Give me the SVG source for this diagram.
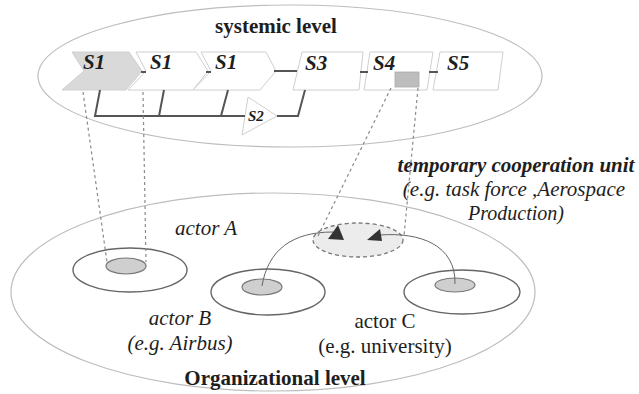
<svg xmlns="http://www.w3.org/2000/svg" width="639" height="394" viewBox="0 0 639 394">
<style>
.lvl{fill:none;stroke:#bdbdbd;stroke-width:1.2}
.chev{fill:#fff;stroke:#cfcfcf;stroke-width:1}
.box{fill:#fff;stroke:#cfcfcf;stroke-width:1}
.lnk{fill:none;stroke:#555;stroke-width:2}
.dot{fill:none;stroke:#8a8a8a;stroke-width:1.2;stroke-dasharray:3,3}
.act{fill:none;stroke:#666;stroke-width:1.4}
.core{fill:#cfcfcf;stroke:#777;stroke-width:1.2}
.cur{fill:none;stroke:#666;stroke-width:1}
.t{font-family:"Liberation Serif","Times New Roman",serif;fill:#1e1e1e}
.bi{font-weight:bold;font-style:italic}
.b{font-weight:bold}
.i{font-style:italic}
</style>
<g id="systemic-level">
<ellipse class="lvl" cx="290" cy="76" rx="252" ry="71"/>
<text class="t b" x="276" y="33" font-size="21" text-anchor="middle">systemic level</text>
</g>
<g id="organizational-level">
<ellipse class="lvl" cx="273" cy="292" rx="262" ry="99"/>
<text class="t b" x="275" y="385" font-size="21" text-anchor="middle">Organizational level</text>
</g>
<g id="s1-a">
<polygon class="chev" style="fill:#d9d9d9" points="72,52 129,52 142,71 126,90 62,90 84,71"/>
<text class="t bi" x="83" y="69" font-size="21">S1</text>
</g>
<g id="s1-b">
<polygon class="chev" points="136,52 196,52 208,71 193,90 128,90 146,71"/>
<text class="t bi" x="150" y="69" font-size="21">S1</text>
</g>
<g id="s1-c">
<polygon class="chev" points="201,52 266,52 276,71 260,90 193,90 211,71"/>
<text class="t bi" x="215" y="69" font-size="21">S1</text>
</g>
<g id="s2">
<polygon class="chev" points="248,97 277,116 242,135"/>
<text class="t bi" x="248" y="121" font-size="15">S2</text>
</g>
<g id="s3">
<polygon class="box" points="302,52 363,52 359,90 293,90"/>
<text class="t bi" x="305" y="70" font-size="21">S3</text>
</g>
<g id="s4">
<polygon class="box" points="370,52 433,52 427,90 364,90"/>
<rect x="395" y="72" width="24" height="15" fill="#bdbdbd" stroke="#aaa" stroke-width="0.8"/>
<text class="t bi" x="373" y="70" font-size="21">S4</text>
</g>
<g id="s5">
<polygon class="box" points="440,52 503,52 498,90 433,90"/>
<text class="t bi" x="447" y="70" font-size="21">S5</text>
</g>
<g id="actor-a">
<ellipse class="act" cx="130" cy="270" rx="57" ry="22"/>
<ellipse class="core" cx="126" cy="266" rx="20" ry="8"/>
<text class="t i" x="206" y="235" font-size="21" text-anchor="middle">actor A</text>
</g>
<g id="actor-b">
<ellipse class="act" cx="268" cy="292" rx="57" ry="23"/>
<ellipse class="core" cx="262" cy="287" rx="20" ry="8"/>
<text class="t i" x="180" y="325" font-size="21" text-anchor="middle">actor B</text>
<text class="t i" x="180" y="350" font-size="21" text-anchor="middle">(e.g. Airbus)</text>
</g>
<g id="actor-c">
<ellipse class="act" cx="462" cy="292" rx="58" ry="22"/>
<ellipse class="core" cx="455" cy="285" rx="20" ry="7"/>
<text class="t" x="385" y="328" font-size="21" text-anchor="middle">actor C</text>
<text class="t" x="385" y="353" font-size="21" text-anchor="middle">(e.g. university)</text>
</g>
<g id="temporary-unit">
<ellipse cx="358" cy="240" rx="45" ry="17" fill="#ececec" stroke="#777" stroke-width="1.3" stroke-dasharray="4,3"/>
<text class="t bi" x="516" y="172" font-size="21" text-anchor="middle">temporary cooperation unit</text>
<text class="t i" x="514" y="196" font-size="21" text-anchor="middle">(e.g. task force ,Aerospace</text>
<text class="t i" x="516" y="220" font-size="20" text-anchor="middle">Production)</text>
</g>
<g id="connectors">
<line class="lnk" x1="141" y1="72" x2="146" y2="72" stroke-width="1.5"/>
<line class="lnk" x1="206" y1="72" x2="211" y2="72" stroke-width="1.5"/>
<line class="lnk" x1="274" y1="71" x2="297" y2="71"/>
<line class="lnk" x1="360" y1="72" x2="368" y2="72" stroke-width="1.5"/>
<line class="lnk" x1="429" y1="72" x2="438" y2="72" stroke-width="1.5"/>
<polyline class="lnk" points="100,90 95,116 245,116"/>
<line class="lnk" x1="164" y1="90" x2="159" y2="116"/>
<line class="lnk" x1="228" y1="90" x2="221" y2="116"/>
<polyline class="lnk" points="277,116 298,116 305,90"/>
<line class="dot" x1="83" y1="92" x2="107" y2="262"/>
<line class="dot" x1="143" y1="92" x2="146" y2="262"/>
<line class="dot" x1="391" y1="88" x2="318" y2="236"/>
<line class="dot" x1="418" y1="88" x2="404" y2="236"/>
<path class="cur" d="M262,286 C268,250 292,232 333,232"/>
<path class="cur" d="M455,284 C456,245 420,232 380,235"/>
<polygon points="328,239 344,240 338,225" fill="#333"/>
<polygon points="367,240 382,241 380,229" fill="#333"/>
</g>
</svg>
